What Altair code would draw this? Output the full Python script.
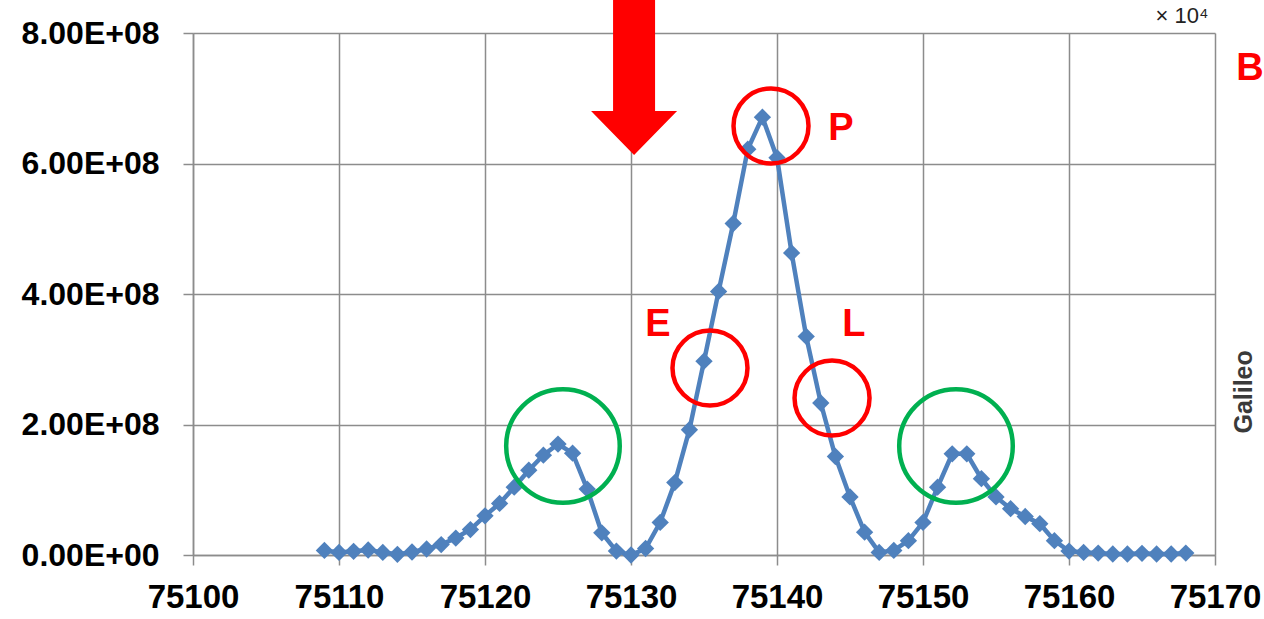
import altair as alt
import pandas as pd

# ---- data ----
freq = list(range(75109, 75169))
power_e6 = [7, 4, 5.6, 7.7, 4, 1, 4.6, 9.2, 16, 26,
            39, 60, 79, 104, 130, 153, 170, 156, 101, 34,
            6, 0, 10, 50, 111, 192, 297, 404, 508, 622,
            671, 609, 463, 335, 233, 151, 89, 35, 4, 7,
            22, 50, 104, 155, 155, 117, 89, 71, 59, 48,
            22, 6, 4, 3, 1.5, 1.5, 2.5, 1.5, 1.5, 3]

x_ticks = [75100, 75110, 75120, 75130, 75140, 75150, 75160, 75170]
y_ticks = [0, 2e8, 4e8, 6e8, 8e8]
y_tick_labels = ["0.00E+00", "2.00E+08", "4.00E+08", "6.00E+08", "8.00E+08"]

# annotation circles (centre in data units)
red_circle_x = [75139.59, 75135.41, 75143.77]
red_circle_y = [6.575e8, 2.866e8, 2.406e8]
green_circle_x = [75125.34, 75152.26]
green_circle_y = [1.67e8, 1.67e8]

# annotation letters
red_text = ["P", "E", "L"]
red_text_x = [75144.38, 75131.85, 75145.27]
red_text_y = [6.53e8, 3.525e8, 3.525e8]

arrow_x = [75130.21]
arrow_y = [7.318e8]

side_text_B = ["B"]
side_B_x = [75172.4]
side_B_y = [7.448e8]
exp_text = ["× 10⁴"]
exp_x = [75167.74]
exp_y = [8.26e8]
galileo_text = ["Galileo"]
galileo_x = [75172.0]
galileo_y = [2.5e8]

# ---- tables ----
df = pd.DataFrame({"f": freq, "p": [v * 1e6 for v in power_e6]})
red_df = pd.DataFrame({"x": red_circle_x, "y": red_circle_y})
green_df = pd.DataFrame({"x": green_circle_x, "y": green_circle_y})
txt_df = pd.DataFrame({"x": red_text_x, "y": red_text_y, "t": red_text})
arrow_df = pd.DataFrame({"x": arrow_x, "y": arrow_y})
b_df = pd.DataFrame({"x": side_B_x, "y": side_B_y, "t": side_text_B})
exp_df = pd.DataFrame({"x": exp_x, "y": exp_y, "t": exp_text})
gal_df = pd.DataFrame({"x": galileo_x, "y": galileo_y, "t": galileo_text})

label_expr = " : ".join(
    f"datum.value == {int(v)} ? '{l}'" for v, l in zip(y_ticks, y_tick_labels)
) + " : ''"

GRID = "#8c8c8c"
xscale = alt.Scale(domain=[75100, 75170], nice=False, zero=False)
yscale = alt.Scale(domain=[0, 8e8], nice=False)

xaxis = alt.Axis(values=x_ticks, format="d", title=None, grid=True,
                 gridColor=GRID, gridWidth=1.5, domainColor=GRID, domainWidth=1.5,
                 tickColor=GRID, tickWidth=1.5, tickSize=10,
                 labelFont="Liberation Sans", labelFontWeight="bold",
                 labelFontSize=33, labelColor="black", labelPadding=16,
                 labelFlush=False)
yaxis = alt.Axis(values=y_ticks, labelExpr=label_expr, title=None, grid=True,
                 gridColor=GRID, gridWidth=1.5, domainColor=GRID, domainWidth=1.5,
                 tickColor=GRID, tickWidth=1.5, tickSize=10,
                 labelFont="Liberation Sans", labelFontWeight="bold",
                 labelFontSize=32, labelColor="black", labelPadding=24,
                 labelFlush=False)

base = alt.Chart(df)
line = base.mark_line(color="#4F81BD", strokeWidth=4.5).encode(
    x=alt.X("f:Q", scale=xscale, axis=xaxis),
    y=alt.Y("p:Q", scale=yscale, axis=yaxis),
)
pts = base.mark_point(shape="diamond", filled=True, size=300, color="#4F81BD", opacity=1).encode(
    x=alt.X("f:Q", scale=xscale),
    y=alt.Y("p:Q", scale=yscale),
)

red_c = alt.Chart(red_df).mark_point(shape="circle", filled=False, size=5625,
                                     color="#FF0000", strokeWidth=4.5, opacity=1).encode(
    x=alt.X("x:Q", scale=xscale), y=alt.Y("y:Q", scale=yscale))
green_c = alt.Chart(green_df).mark_point(shape="circle", filled=False, size=12900,
                                         color="#00B050", strokeWidth=4.5, opacity=1).encode(
    x=alt.X("x:Q", scale=xscale), y=alt.Y("y:Q", scale=yscale))

arrow_path = ("M-0.271,-1 L0.271,-1 L0.271,0.432 L0.555,0.432 L0,1 "
              "L-0.555,0.432 L-0.271,0.432 Z")
arrow = alt.Chart(arrow_df).mark_point(shape=arrow_path, filled=True, size=24025,
                                       color="#FF0000", opacity=1, strokeWidth=0).encode(
    x=alt.X("x:Q", scale=xscale), y=alt.Y("y:Q", scale=yscale))

letters = alt.Chart(txt_df).mark_text(font="Liberation Sans", fontWeight="bold",
                                      fontSize=38, color="#FF0000",
                                      align="center", baseline="middle").encode(
    x=alt.X("x:Q", scale=xscale), y=alt.Y("y:Q", scale=yscale), text="t:N")

b_txt = alt.Chart(b_df).mark_text(font="Liberation Sans", fontWeight="bold",
                                  fontSize=38, color="#FF0000",
                                  align="center", baseline="middle").encode(
    x=alt.X("x:Q", scale=xscale), y=alt.Y("y:Q", scale=yscale), text="t:N")

exp_txt = alt.Chart(exp_df).mark_text(font="Liberation Sans", fontSize=22, color="#222222",
                                      align="center", baseline="middle").encode(
    x=alt.X("x:Q", scale=xscale), y=alt.Y("y:Q", scale=yscale), text="t:N")

gal_txt = alt.Chart(gal_df).mark_text(font="Liberation Sans", fontWeight="bold",
                                      fontSize=25, color="#3a3a3a", angle=270,
                                      align="center", baseline="middle").encode(
    x=alt.X("x:Q", scale=xscale), y=alt.Y("y:Q", scale=yscale), text="t:N")

chart = alt.layer(line, pts, green_c, red_c, arrow, letters, b_txt, exp_txt, gal_txt).properties(
    width=1022, height=522,
    autosize=alt.AutoSizeParams(type="none"),
    padding={"left": 193, "top": 33, "right": 49, "bottom": 64},
    background="white",
).configure_view(stroke=None)

chart.save("out.html", embed_options={"renderer": "svg", "actions": False})
